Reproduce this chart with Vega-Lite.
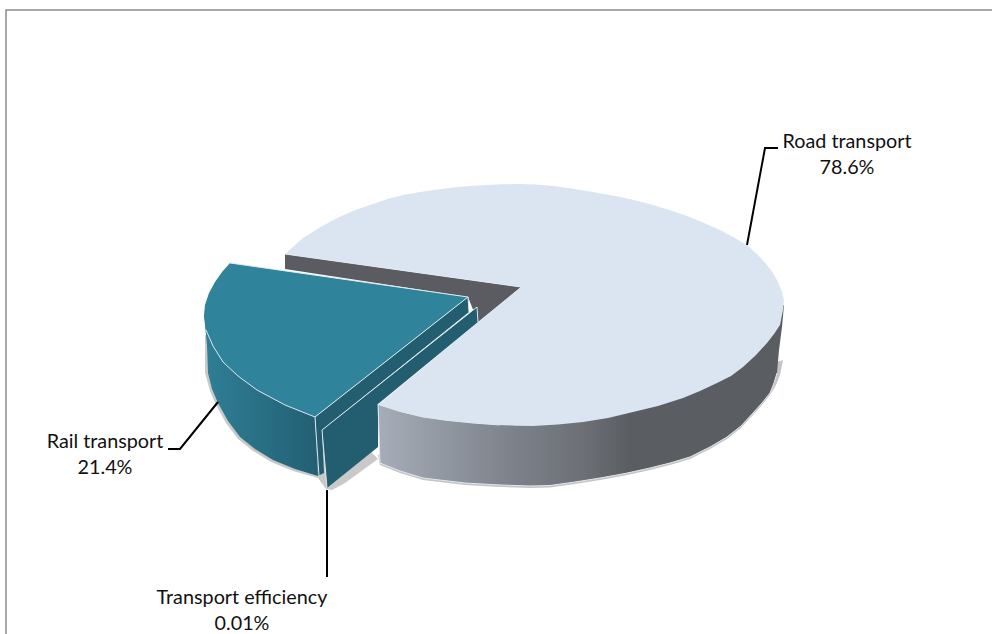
{
"$schema":"https://vega.github.io/schema/vega-lite/v6.json",
"width":992,"height":634,"autosize":{"type":"none"},"padding":0,
"background":"white","view":{"stroke":null},
"datasets":{
"shapes":[
{"part":"shadow","x":378,"y":455},{"part":"shadow","x":380,"y":465},{"part":"shadow","x":400,"y":473},{"part":"shadow","x":423,"y":480},{"part":"shadow","x":465,"y":485},{"part":"shadow","x":500,"y":487},{"part":"shadow","x":530,"y":488},{"part":"shadow","x":550,"y":487.5},{"part":"shadow","x":575,"y":484},{"part":"shadow","x":600,"y":480},{"part":"shadow","x":625,"y":475.5},{"part":"shadow","x":650,"y":470},{"part":"shadow","x":670,"y":465},{"part":"shadow","x":690,"y":459},{"part":"shadow","x":710,"y":449},{"part":"shadow","x":727,"y":439},{"part":"shadow","x":741,"y":428},{"part":"shadow","x":753,"y":415},{"part":"shadow","x":762,"y":405},{"part":"shadow","x":770,"y":395},{"part":"shadow","x":776,"y":385},{"part":"shadow","x":780,"y":375},{"part":"shadow","x":783,"y":360},{"part":"shadow","x":720,"y":380},
{"part":"shadow2","x":205,"y":335},{"part":"shadow2","x":205,"y":373},{"part":"shadow2","x":210,"y":391},{"part":"shadow2","x":216,"y":405},{"part":"shadow2","x":226,"y":423},{"part":"shadow2","x":238,"y":439},{"part":"shadow2","x":253,"y":451},{"part":"shadow2","x":271,"y":462},{"part":"shadow2","x":293,"y":471},{"part":"shadow2","x":318,"y":478},{"part":"shadow2","x":326,"y":489},{"part":"shadow2","x":332,"y":490},{"part":"shadow2","x":345,"y":483},{"part":"shadow2","x":378,"y":459},{"part":"shadow2","x":340,"y":420},
{"part":"bigwall","x":378,"y":404},{"part":"bigwall","x":380,"y":463},{"part":"bigwall","x":400,"y":471},{"part":"bigwall","x":423,"y":478},{"part":"bigwall","x":465,"y":483},{"part":"bigwall","x":500,"y":485},{"part":"bigwall","x":530,"y":486},{"part":"bigwall","x":550,"y":485.5},{"part":"bigwall","x":575,"y":482},{"part":"bigwall","x":600,"y":478},{"part":"bigwall","x":625,"y":473.5},{"part":"bigwall","x":650,"y":468},{"part":"bigwall","x":670,"y":463},{"part":"bigwall","x":690,"y":457},{"part":"bigwall","x":710,"y":447},{"part":"bigwall","x":727,"y":437},{"part":"bigwall","x":741,"y":426},{"part":"bigwall","x":753,"y":413},{"part":"bigwall","x":762,"y":403},{"part":"bigwall","x":770,"y":393},{"part":"bigwall","x":774,"y":383},{"part":"bigwall","x":777,"y":373},{"part":"bigwall","x":779,"y":350},{"part":"bigwall","x":782,"y":327},{"part":"bigwall","x":784,"y":305},{"part":"bigwall","x":600,"y":380},
{"part":"rear","x":285,"y":254},{"part":"rear","x":521,"y":287},{"part":"rear","x":478,"y":322},{"part":"rear","x":468,"y":297},{"part":"rear","x":285,"y":269},
{"part":"bigtop","x":285,"y":254},{"part":"bigtop","x":294,"y":246},{"part":"bigtop","x":303,"y":238},{"part":"bigtop","x":319,"y":228},{"part":"bigtop","x":337,"y":218},{"part":"bigtop","x":353,"y":211},{"part":"bigtop","x":370,"y":205},{"part":"bigtop","x":386,"y":199.5},{"part":"bigtop","x":403,"y":195},{"part":"bigtop","x":420,"y":192},{"part":"bigtop","x":437,"y":189.5},{"part":"bigtop","x":453,"y":187.5},{"part":"bigtop","x":470,"y":186},{"part":"bigtop","x":486,"y":185},{"part":"bigtop","x":503,"y":184.3},{"part":"bigtop","x":520,"y":184},{"part":"bigtop","x":536,"y":184.6},{"part":"bigtop","x":553,"y":186},{"part":"bigtop","x":570,"y":188.2},{"part":"bigtop","x":587,"y":191},{"part":"bigtop","x":603,"y":193.8},{"part":"bigtop","x":620,"y":197},{"part":"bigtop","x":637,"y":200.8},{"part":"bigtop","x":653,"y":205},{"part":"bigtop","x":670,"y":210.2},{"part":"bigtop","x":687,"y":216},{"part":"bigtop","x":703,"y":222.5},{"part":"bigtop","x":720,"y":230},{"part":"bigtop","x":735,"y":238},{"part":"bigtop","x":748,"y":246},{"part":"bigtop","x":758,"y":255},{"part":"bigtop","x":767,"y":265},{"part":"bigtop","x":773,"y":273},{"part":"bigtop","x":778,"y":282},{"part":"bigtop","x":782,"y":292},{"part":"bigtop","x":784,"y":300},{"part":"bigtop","x":783,"y":310},{"part":"bigtop","x":780,"y":325},{"part":"bigtop","x":774,"y":334},{"part":"bigtop","x":767,"y":343},{"part":"bigtop","x":756,"y":355},{"part":"bigtop","x":743,"y":367},{"part":"bigtop","x":731,"y":376},{"part":"bigtop","x":717,"y":383},{"part":"bigtop","x":700,"y":391},{"part":"bigtop","x":683,"y":398},{"part":"bigtop","x":658,"y":406},{"part":"bigtop","x":633,"y":412},{"part":"bigtop","x":608,"y":418},{"part":"bigtop","x":583,"y":422},{"part":"bigtop","x":558,"y":424.5},{"part":"bigtop","x":533,"y":426},{"part":"bigtop","x":516,"y":425.7},{"part":"bigtop","x":500,"y":425},{"part":"bigtop","x":473,"y":423},{"part":"bigtop","x":448,"y":420.5},{"part":"bigtop","x":423,"y":417},{"part":"bigtop","x":400,"y":411.5},{"part":"bigtop","x":378,"y":405},{"part":"bigtop","x":521,"y":287},
{"part":"thin","x":322,"y":430},{"part":"thin","x":477,"y":307},{"part":"thin","x":478,"y":322},{"part":"thin","x":378,"y":404},{"part":"thin","x":378,"y":447},{"part":"thin","x":327,"y":488},
{"part":"tealwall","x":204,"y":315},{"part":"tealwall","x":207,"y":345},{"part":"tealwall","x":208,"y":373},{"part":"tealwall","x":212,"y":389},{"part":"tealwall","x":218,"y":403},{"part":"tealwall","x":228,"y":421},{"part":"tealwall","x":240,"y":437},{"part":"tealwall","x":255,"y":449},{"part":"tealwall","x":273,"y":460},{"part":"tealwall","x":295,"y":469},{"part":"tealwall","x":318,"y":476},{"part":"tealwall","x":315,"y":417},{"part":"tealwall","x":257,"y":380},
{"part":"tealedge","x":315,"y":417},{"part":"tealedge","x":468,"y":297},{"part":"tealedge","x":469,"y":312},{"part":"tealedge","x":322,"y":430},{"part":"tealedge","x":324,"y":473},{"part":"tealedge","x":318,"y":476},
{"part":"tealtop","x":230,"y":263},{"part":"tealtop","x":222,"y":272},{"part":"tealtop","x":215,"y":282},{"part":"tealtop","x":209,"y":293},{"part":"tealtop","x":205,"y":305},{"part":"tealtop","x":204,"y":315},{"part":"tealtop","x":206,"y":330},{"part":"tealtop","x":213,"y":346},{"part":"tealtop","x":223,"y":362},{"part":"tealtop","x":238,"y":376},{"part":"tealtop","x":257,"y":390},{"part":"tealtop","x":285,"y":405},{"part":"tealtop","x":315,"y":417},{"part":"tealtop","x":468,"y":297}
],
"lines":[
{"id":"frame","x":6,"y":634},{"id":"frame","x":6,"y":10},{"id":"frame","x":992,"y":10},
{"id":"road","x":747,"y":245},{"id":"road","x":765,"y":148},{"id":"road","x":778,"y":148},
{"id":"rail","x":218,"y":402},{"id":"rail","x":180,"y":449},{"id":"rail","x":168,"y":449},
{"id":"eff","x":327,"y":490},{"id":"eff","x":327,"y":577}
],
"edges":[
{"id":"a","x":206,"y":330},{"id":"a","x":213,"y":346},{"id":"a","x":223,"y":362},{"id":"a","x":238,"y":376},{"id":"a","x":257,"y":390},{"id":"a","x":285,"y":405},{"id":"a","x":315,"y":417},{"id":"a","x":468,"y":297},{"id":"a","x":469,"y":312},
{"id":"b","x":230,"y":263},{"id":"b","x":468,"y":297},
{"id":"c","x":315,"y":417},{"id":"c","x":319,"y":476},
{"id":"d","x":327,"y":488},{"id":"d","x":322,"y":430},{"id":"d","x":477,"y":307},{"id":"d","x":478,"y":322},
{"id":"e","x":380,"y":463},{"id":"e","x":378,"y":404},{"id":"e","x":400,"y":411.5},{"id":"e","x":423,"y":417},{"id":"e","x":448,"y":420.5},{"id":"e","x":473,"y":423},{"id":"e","x":500,"y":425},
{"id":"f","x":285,"y":254},{"id":"f","x":521,"y":287},
{"id":"g","x":380,"y":463},{"id":"g","x":400,"y":471},{"id":"g","x":423,"y":478},{"id":"g","x":465,"y":483},{"id":"g","x":500,"y":485},{"id":"g","x":530,"y":486},{"id":"g","x":550,"y":485.5},{"id":"g","x":575,"y":482},{"id":"g","x":600,"y":478},{"id":"g","x":625,"y":473.5},{"id":"g","x":650,"y":468},{"id":"g","x":670,"y":463},{"id":"g","x":690,"y":457},{"id":"g","x":710,"y":447},{"id":"g","x":727,"y":437},{"id":"g","x":741,"y":426},{"id":"g","x":753,"y":413},{"id":"g","x":762,"y":403},{"id":"g","x":770,"y":393},{"id":"g","x":774,"y":383},{"id":"g","x":777,"y":373}
],
"labels":[
{"label":"Road transport","x":847,"y":142},{"label":"78.6%","x":847,"y":168},
{"label":"Rail transport","x":105,"y":442},{"label":"21.4%","x":105,"y":468},
{"label":"Transport efficiency","x":242,"y":598},{"label":"0.01%","x":242,"y":624}
]
},
"encoding":{
"x":{"field":"x","type":"quantitative","scale":{"domain":[0,992],"nice":false,"zero":false},"axis":null},
"y":{"field":"y","type":"quantitative","scale":{"domain":[634,0],"nice":false,"zero":false},"axis":null},
"order":{"value":null}
},
"layer":[
{"data":{"name":"shapes"},"transform":[{"filter":"datum.part=='shadow'"}],"mark":{"type":"line","fill":"#c4c4c4","strokeWidth":0}},
{"data":{"name":"shapes"},"transform":[{"filter":"datum.part=='shadow2'"}],"mark":{"type":"line","fill":"#c9c9c9","strokeWidth":0}},
{"data":{"name":"shapes"},"transform":[{"filter":"datum.part=='bigwall'"}],"mark":{"type":"line","strokeWidth":0,"fill":{"gradient":"linear","x1":0,"x2":1,"y1":0,"y2":0,"stops":[{"offset":0,"color":"#a6adb8"},{"offset":0.3,"color":"#80858e"},{"offset":0.5,"color":"#6d7076"},{"offset":0.62,"color":"#5a5d62"},{"offset":1,"color":"#5a5d62"}]}}},
{"data":{"name":"shapes"},"transform":[{"filter":"datum.part=='rear'"}],"mark":{"type":"line","fill":"#5a5c61","strokeWidth":0}},
{"data":{"name":"shapes"},"transform":[{"filter":"datum.part=='bigtop'"}],"mark":{"type":"line","fill":"#dbe5f1","strokeWidth":0}},
{"data":{"name":"shapes"},"transform":[{"filter":"datum.part=='thin'"}],"mark":{"type":"line","fill":"#235d70","strokeWidth":0}},
{"data":{"name":"shapes"},"transform":[{"filter":"datum.part=='tealwall'"}],"mark":{"type":"line","strokeWidth":0,"fill":{"gradient":"linear","x1":0,"x2":1,"y1":0,"y2":0,"stops":[{"offset":0,"color":"#2f7f96"},{"offset":1,"color":"#235f73"}]}}},
{"data":{"name":"shapes"},"transform":[{"filter":"datum.part=='tealedge'"}],"mark":{"type":"line","fill":"#235d70","strokeWidth":0}},
{"data":{"name":"shapes"},"transform":[{"filter":"datum.part=='tealtop'"}],"mark":{"type":"line","fill":"#2f839b","strokeWidth":0}},
{"data":{"name":"edges"},"mark":{"type":"line","stroke":"#dfe9ee","strokeWidth":1},"encoding":{"detail":{"field":"id"}}},
{"data":{"name":"lines"},"transform":[{"filter":"datum.id=='frame'"}],"mark":{"type":"line","stroke":"#8c8c8c","strokeWidth":1.5}},
{"data":{"name":"lines"},"transform":[{"filter":"datum.id!='frame'"}],"mark":{"type":"line","stroke":"#000000","strokeWidth":2},"encoding":{"detail":{"field":"id"}}},
{"data":{"name":"labels"},"mark":{"type":"text","font":"Lato","fontSize":19.8,"color":"#111111","align":"center","baseline":"middle"},"encoding":{"text":{"field":"label"},"order":{"field":"y"}}}
]
}
